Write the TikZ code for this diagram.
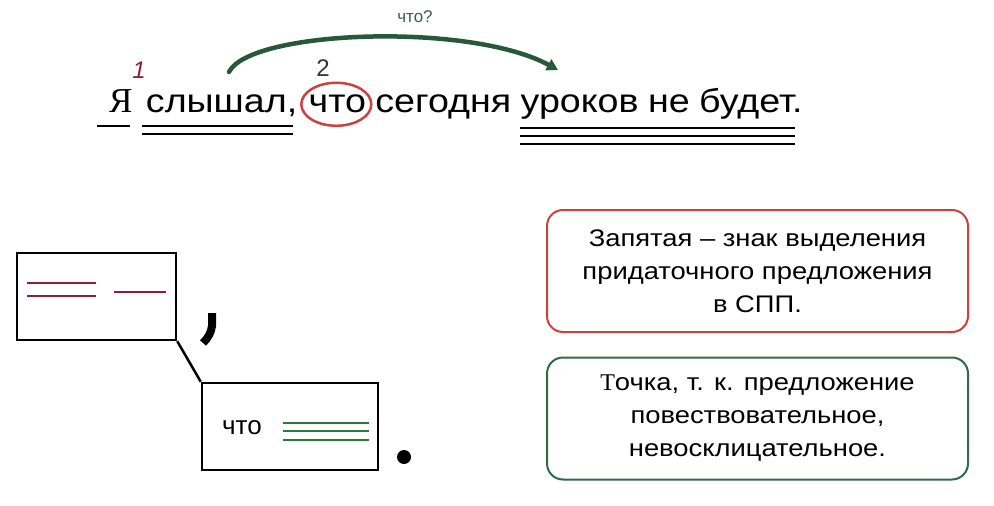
\documentclass[tikz,border=0pt]{standalone}
\usepackage{fontspec}
\setmainfont{Liberation Sans}
\newfontfamily\widesans[FakeStretch=1.14]{Liberation Sans}
\newfontfamily\wideserif{Liberation Serif}
\usetikzlibrary{arrows.meta,shapes.geometric,calc}
\definecolor{boxred}{HTML}{C8423F}
\definecolor{boxgreen}{HTML}{2F6B45}
\definecolor{maroon}{HTML}{8A1F3D}
\definecolor{lgreen}{HTML}{2A7A3A}
\definecolor{arcgreen}{HTML}{27583A}
\definecolor{qgray}{HTML}{3B5A55}
\begin{document}
\begin{tikzpicture}[x=1pt,y=-1pt,
  word/.style={inner sep=0pt, anchor=base west, font=\widesans\fontsize{33}{36}\selectfont},
  uline/.style={line width=2.8pt, black},
  schbox/.style={draw, line width=2.5pt, inner sep=0pt},
  infobox/.style={draw, line width=2pt, rounded corners=16pt, inner sep=0pt,
     minimum width=421pt, minimum height=122pt, align=center,
     font=\widesans\fontsize{24}{33}\selectfont},
  mline/.style={line width=2.5pt, maroon},
  gline/.style={line width=2.5pt, lgreen}]
\useasboundingbox[fill=white] (0,0) rectangle (994,506);

% sentence
\node[word, font=\wideserif\fontsize{35}{36}\selectfont] (w1) at (109,112) {Я};
\node[word] (w2) at ($(w1.base east)+(13,0)$) {слышал,};
\node[word] (w3) at ($(w2.base east)+(11,0)$) {что};
\node[word] (w4) at ($(w3.base east)+(9,0)$) {сегодня};
\node[word] (w5) at ($(w4.base east)+(9,0)$) {уроков};
\node[word] (w6) at ($(w5.base east)+(9,0)$) {не};
\node[word] (w7) at ($(w6.base east)+(9,0)$) {будет.};

% underlines
\draw[uline] ($(w1.base west)+(-12,14)$) -- ($(w1.base east)+(-3,14)$);
\draw[uline] ($(w2.base west)+(-4,14)$) -- ($(w2.base east)+(-4,14)$);
\draw[uline] ($(w2.base west)+(-4,22)$) -- ($(w2.base east)+(-4,22)$);
\draw[uline] ($(w5.base west)+(0,16)$) -- ($(w7.base east)+(-8,16)$);
\draw[uline] ($(w5.base west)+(0,24)$) -- ($(w7.base east)+(-8,24)$);
\draw[uline] ($(w5.base west)+(0,32)$) -- ($(w7.base east)+(-8,32)$);

% circle around что
\node[draw=boxred, ellipse, line width=2.5pt, minimum width=70pt, minimum height=43pt]
  (circ) at ($(w3.center)+(-1,1)$) {};

% numbers
\node[text=maroon, font=\fontsize{24}{24}\selectfont\itshape] (n1) at (139,70) {1};
\node[text=black!80, font=\fontsize{24}{24}\selectfont] (n2) at (323,68) {2};

% arc
\coordinate (as) at (229,72);
\coordinate (ae) at (558,70);
\draw[arcgreen, line width=4.5pt, line cap=round, -{Triangle[length=11pt,width=12pt]}]
  (as) .. controls (250,30) and (470,22) .. (ae);
\node[text=qgray, font=\fontsize{17}{17}\selectfont] (q) at (415,17) {что?};

% scheme
\node[schbox, minimum width=159pt, minimum height=87pt] (A) at (96.5,296.5) {};
\node[schbox, minimum width=176pt, minimum height=87pt] (B) at (290,426.5) {};
\draw[line width=2.5pt] (A.south east) -- (B.north west);
\draw[mline] (27,283) -- (96,283);
\draw[mline] (27,296) -- (96,296);
\draw[mline] (114,292) -- (166,292);
\node[font=\fontsize{26}{26}\selectfont, inner sep=0pt] (bq) at (242,428) {что};
\draw[gline] (283,423) -- (369,423);
\draw[gline] (283,431) -- (369,431);
\draw[gline] (283,440) -- (369,440);
\draw[line width=8pt] (212,313) -- (212,326) .. controls (211,333) and (208,338) .. (203,343);
\fill (404,457) circle (7pt);

% info boxes
\node[infobox, draw=boxred] (R) at (757.5,271) {Запятая – знак выделения\\придаточного предложения\\в СПП.};
\node[infobox, draw=boxgreen] (G) at (757.5,418.5) {{\wideserif Т}очка, т. к. предложение\\повествовательное,\\невосклицательное.};
\end{tikzpicture}
\end{document}
